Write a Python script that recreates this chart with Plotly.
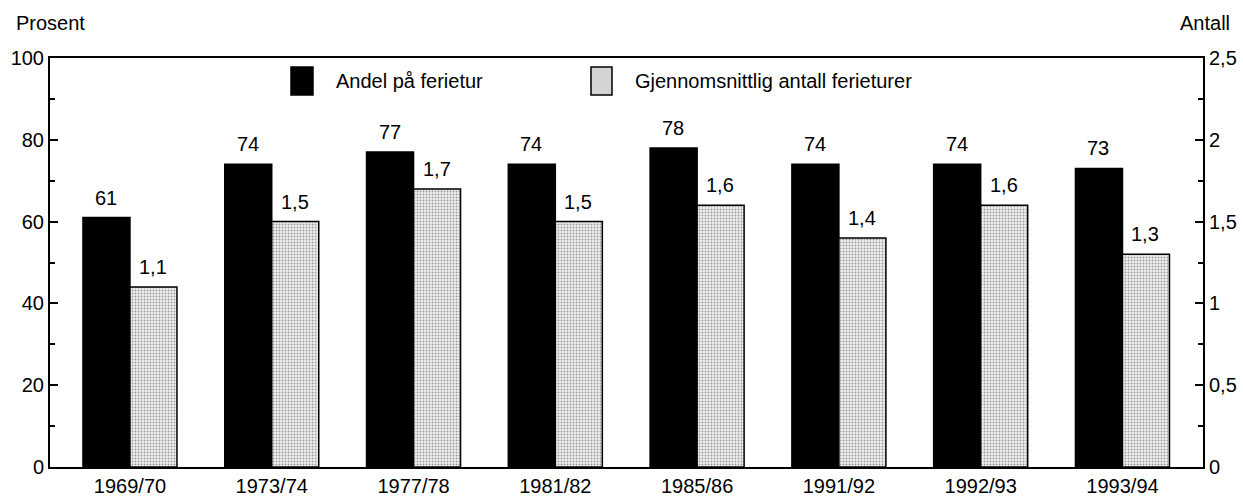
import plotly.graph_objects as go

categories = ["1969/70", "1973/74", "1977/78", "1981/82", "1985/86", "1991/92", "1992/93", "1993/94"]
andel = [61, 74, 77, 74, 78, 74, 74, 73]
antall = [1.1, 1.5, 1.7, 1.5, 1.6, 1.4, 1.6, 1.3]
left_ticks = [0, 20, 40, 60, 80, 100]
right_ticks = [0, 0.5, 1, 1.5, 2, 2.5]

FONT = "Liberation Sans, Arial, sans-serif"
FS = 20

fig = go.Figure()
fig.add_trace(go.Bar(
    x=categories, y=andel, name="Andel på ferietur",
    marker=dict(color="black", line=dict(color="black", width=1.5)),
    offsetgroup="1", yaxis="y",
))
fig.add_trace(go.Bar(
    x=categories, y=antall, name="Gjennomsnittlig antall ferieturer",
    marker=dict(color="#d4d4d4", line=dict(color="black", width=1.5),
                pattern=dict(shape=".", fgcolor="#444444", bgcolor="#eeeeee", size=3, solidity=0.3)),
    offsetgroup="2", yaxis="y2",
))

# value labels above bars (positioned through the axes)
for c, v in zip(categories, andel):
    fig.add_annotation(x=c, y=v, xref="x", yref="y", text=str(v), showarrow=False,
                       xshift=-24, yshift=7, yanchor="bottom", font=dict(size=FS, family=FONT))
for c, v in zip(categories, antall):
    fig.add_annotation(x=c, y=v, xref="x", yref="y2", text=f"{v:.1f}".replace(".", ","), showarrow=False,
                       xshift=23, yshift=7, yanchor="bottom", font=dict(size=FS, family=FONT))

fig.update_layout(
    width=1243, height=501,
    margin=dict(l=50, r=40, t=58, b=34, autoexpand=False),
    plot_bgcolor="white", paper_bgcolor="white",
    barmode="group", bargap=0.337, bargroupgap=0,
    showlegend=False,
    separators=", ",
    font=dict(family=FONT, size=FS, color="black"),
    xaxis=dict(range=[-0.564, 7.568], showline=True, linecolor="black", linewidth=2,
               mirror=True, ticks="", showgrid=False, automargin=False,
               tickfont=dict(size=FS, family=FONT)),
    yaxis=dict(range=[0, 100], tickvals=left_ticks, ticks="inside", ticklen=8, tickwidth=1.5,
               tickcolor="black", showline=True, linecolor="black", linewidth=2, automargin=False,
               showgrid=False, zeroline=False, tickfont=dict(size=FS, family=FONT),
               minor=dict(dtick=10, ticks="inside", ticklen=5, tickcolor="black", tickwidth=1.5)),
    yaxis2=dict(range=[0, 2.5], tickvals=right_ticks, overlaying="y", side="right",
                ticks="inside", ticklen=8, tickwidth=1.5, tickcolor="black", automargin=False,
                showline=True, linecolor="black", linewidth=2, showgrid=False, zeroline=False,
                tickfont=dict(size=FS, family=FONT),
                minor=dict(dtick=0.25, ticks="inside", ticklen=5, tickcolor="black", tickwidth=1.5)),
)

# Axis titles
fig.add_annotation(text="Prosent", xref="paper", yref="paper", x=(14-50)/1153, y=(467-23)/409,
                   xanchor="left", yanchor="middle", showarrow=False, font=dict(size=FS, family=FONT))
fig.add_annotation(text="Antall", xref="paper", yref="paper", x=(1232-50)/1153, y=(467-23)/409,
                   xanchor="right", yanchor="middle", showarrow=False, font=dict(size=FS, family=FONT))

# Custom legend
fig.add_shape(type="rect", xref="paper", yref="paper", x0=(291-50)/1153, x1=(313-50)/1153,
              y0=(467-95)/409, y1=(467-67)/409, fillcolor="black", line=dict(color="black", width=1.5))
fig.add_annotation(text="Andel på ferietur", xref="paper", yref="paper", x=(334-50)/1153,
                   y=(467-81)/409, xanchor="left", yanchor="middle", showarrow=False,
                   font=dict(size=FS, family=FONT))
fig.add_shape(type="rect", xref="paper", yref="paper", x0=(591-50)/1153, x1=(612-50)/1153,
              y0=(467-95)/409, y1=(467-67)/409, fillcolor="#d4d4d4", line=dict(color="black", width=1.5))
fig.add_annotation(text="Gjennomsnittlig antall ferieturer", xref="paper", yref="paper", x=(633-50)/1153,
                   y=(467-81)/409, xanchor="left", yanchor="middle", showarrow=False,
                   font=dict(size=FS, family=FONT))

fig.write_html("out.html", config={"displayModeBar": False},
               post_script="document.body.style.margin='0px';document.body.style.padding='0px';")
